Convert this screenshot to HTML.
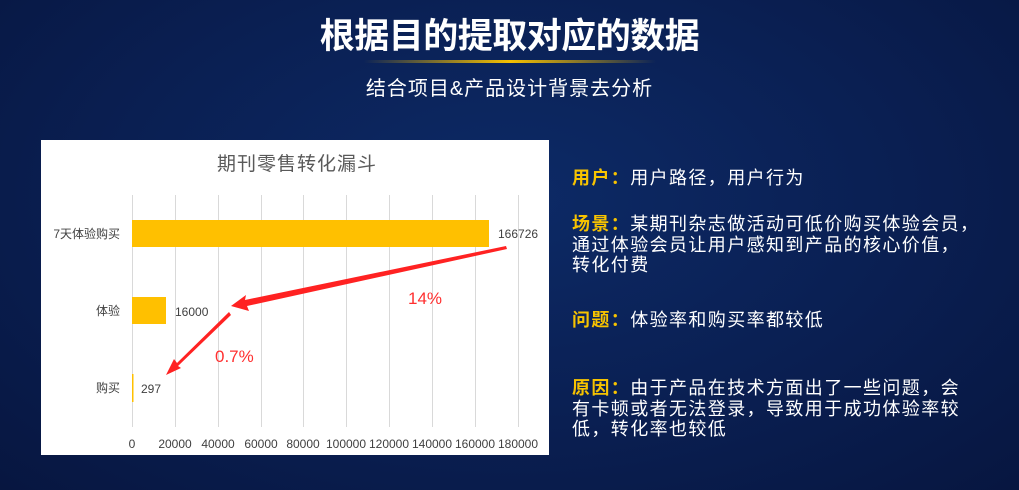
<!DOCTYPE html>
<html><head><meta charset="utf-8"><style>
body{margin:0;width:1019px;height:490px;overflow:hidden;background:radial-gradient(ellipse at 50% 40%,#0d2a66 0%,#0a1f52 55%,#071640 100%);font-family:"Liberation Sans","Noto Sans CJK SC",sans-serif;position:relative}
.t{position:absolute;left:0;width:1019px;text-align:center;color:#fff}
.r{position:absolute;left:572px;color:#fff;font-size:18px;letter-spacing:1.4px;line-height:20.5px}
.r b{color:#f7c300}
</style></head><body>
<div class="t" style="top:8px;font-size:35px;font-weight:bold;letter-spacing:-0.5px">根据目的提取对应的数据</div>
<div style="position:absolute;top:60px;left:364px;width:292px;height:3px;background:linear-gradient(90deg,transparent,#f5c000,transparent)"></div>
<div class="t" style="top:72px;font-size:20px;letter-spacing:1px">结合项目&amp;产品设计背景去分析</div>

<svg style="position:absolute;left:0;top:0" width="1019" height="490" font-family="Liberation Sans,Noto Sans CJK SC,sans-serif">
<rect x="41" y="140" width="508" height="315" fill="#fff"/>
<text x="297" y="170" font-size="19" fill="#595959" text-anchor="middle" letter-spacing="1">期刊零售转化漏斗</text>
<g stroke="#d9d9d9" stroke-width="1">
<line x1="132.5" y1="195" x2="132.5" y2="427"/><line x1="175.5" y1="195" x2="175.5" y2="427"/><line x1="218.5" y1="195" x2="218.5" y2="427"/><line x1="261.5" y1="195" x2="261.5" y2="427"/><line x1="303.5" y1="195" x2="303.5" y2="427"/><line x1="346.5" y1="195" x2="346.5" y2="427"/><line x1="389.5" y1="195" x2="389.5" y2="427"/><line x1="432.5" y1="195" x2="432.5" y2="427"/><line x1="475.5" y1="195" x2="475.5" y2="427"/><line x1="518.5" y1="195" x2="518.5" y2="427"/>
</g>
<rect x="132" y="220" width="357" height="27" fill="#ffc000"/>
<rect x="132" y="297" width="34" height="27" fill="#ffc000"/>
<rect x="132" y="374" width="1.5" height="28" fill="#ffc000"/>
<g font-size="12" fill="#404040">
<text x="120" y="238" text-anchor="end">7天体验购买</text>
<text x="120" y="315" text-anchor="end">体验</text>
<text x="120" y="392" text-anchor="end">购买</text>
<text x="498" y="238">166726</text>
<text x="175" y="316">16000</text>
<text x="141" y="393">297</text>
</g>
<g font-size="12" fill="#404040" text-anchor="middle">
<text x="132" y="448">0</text><text x="175" y="448">20000</text><text x="218" y="448">40000</text><text x="261" y="448">60000</text><text x="303" y="448">80000</text><text x="346" y="448">100000</text><text x="389" y="448">120000</text><text x="432" y="448">140000</text><text x="475" y="448">160000</text><text x="518" y="448">180000</text>
</g>
<polygon points="506,246 245,300 246,295 231,306 249,311 247,306 507,249" fill="#ff2222"/>
<polygon points="229,312 177,363 174,359 166,375 181,368 178,366 231,315" fill="#ff2222"/>
<text x="408" y="304" font-size="17" fill="#ff3030">14%</text>
<text x="215" y="362" font-size="17" fill="#ff3030">0.7%</text>
</svg>

<div class="r" style="top:168px"><b>用户：</b>用户路径，用户行为</div>
<div class="r" style="top:214px"><b>场景：</b>某期刊杂志做活动可低价购买体验会员，<br>通过体验会员让用户感知到产品的核心价值，<br>转化付费</div>
<div class="r" style="top:310px"><b>问题：</b>体验率和购买率都较低</div>
<div class="r" style="top:378px"><b>原因：</b>由于产品在技术方面出了一些问题，会<br>有卡顿或者无法登录，导致用于成功体验率较<br>低，转化率也较低</div>
</body></html>
